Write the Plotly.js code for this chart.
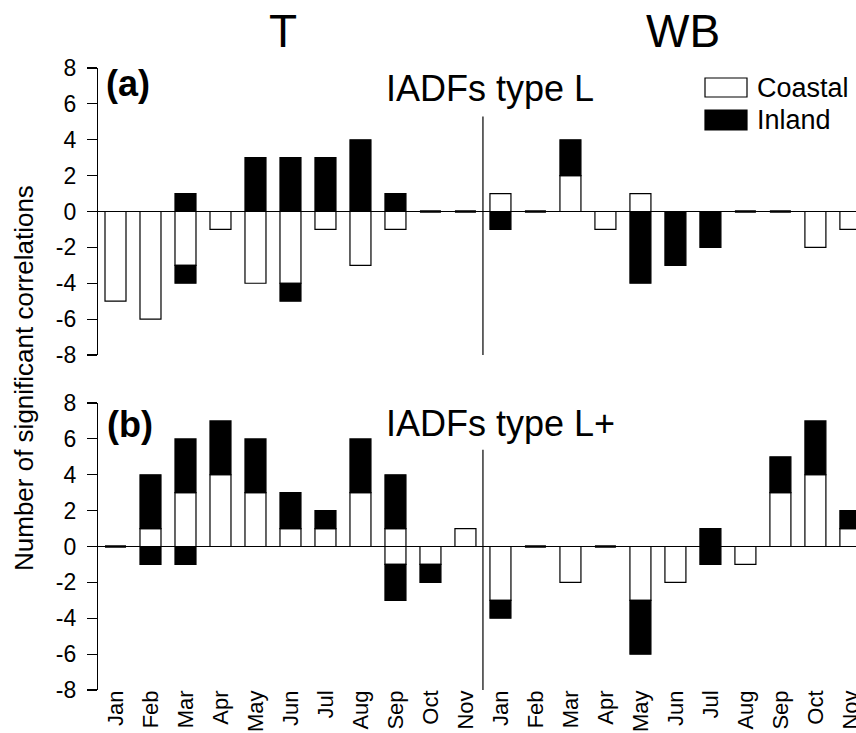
<!DOCTYPE html>
<html>
<head>
<meta charset="utf-8">
<script src="https://cdn.plot.ly/plotly-3.0.1.min.js"></script>
<style>html,body{margin:0;padding:0;background:#fff;}#chart{width:856px;height:733px;}</style>
</head>
<body>
<div id="chart"></div>
<script>
// ---- Data ----
var months = ['Jan','Feb','Mar','Apr','May','Jun','Jul','Aug','Sep','Oct','Nov'];
var xLabels = months.concat(months);           // T months, then WB months
var yTickVals = [-8,-6,-4,-2,0,2,4,6,8];
var yTickText = ['-8','-6','-4','-2','0','2','4','6','8'];

// Panel (a): IADFs type L   (T Jan..Nov, then WB Jan..Nov)
var aCoastalPos = [0,0,0,0,0,0,0,0,0,0,0,   1,0,2,0,1,0,0,0,0,0,0];
var aInlandPos  = [0,0,1,0,3,3,3,4,1,0,0,   0,0,2,0,0,0,0,0,0,0,0];
var aCoastalNeg = [-5,-6,-3,-1,-4,-4,-1,-3,-1,0,0,   0,0,0,-1,0,0,0,0,0,-2,-1];
var aInlandNeg  = [0,0,-1,0,0,-1,0,0,0,0,0,   -1,0,0,0,-4,-3,-2,0,0,0,0];

// Panel (b): IADFs type L+
var bCoastalPos = [0,1,3,4,3,1,1,3,1,0,1,   0,0,0,0,0,0,0,0,3,4,1];
var bInlandPos  = [0,3,3,3,3,2,1,3,3,0,0,   0,0,0,0,0,0,1,0,2,3,1];
var bCoastalNeg = [0,0,0,0,0,0,0,0,-1,-1,0,   -3,0,-2,0,-3,-2,0,-1,0,0,0];
var bInlandNeg  = [0,-1,-1,0,0,0,0,0,-2,-1,0,   -1,0,0,0,-3,0,-1,0,0,0,0];

// ---- Build traces ----
var xIdx = xLabels.map(function(_, i){ return i; });
function isEmpty(all, i){ return all.every(function(o){ return o[i] === 0; }); }
function clean(arr, keepEmpty, all){
  return arr.map(function(v, i){
    if (v !== 0) return v;
    if (keepEmpty && isEmpty(all, i)) return 0;   // empty category: flat bar at zero
    return null;
  });
}
var LINE = {color:'#000', width:1.2};
function panelTraces(cp, ip, cn, inn, xa, ya){
  var all = [cp, ip, cn, inn];
  var lw = xIdx.map(function(i){ return isEmpty(all, i) ? 2.6 : 1.2; });
  return [
    {type:'bar', name:'Coastal', x:xIdx, y:clean(cp, true, all), xaxis:xa, yaxis:ya,
     marker:{color:'#fff', line:{color:'#000', width:lw}}, showlegend:false, hoverinfo:'y+name'},
    {type:'bar', name:'Coastal', x:xIdx, y:clean(cn, false, all), xaxis:xa, yaxis:ya,
     marker:{color:'#fff', line:LINE}, showlegend:false, hoverinfo:'y+name'},
    {type:'bar', name:'Inland', x:xIdx, y:clean(ip, false, all), xaxis:xa, yaxis:ya,
     marker:{color:'#000', line:LINE}, showlegend:false, hoverinfo:'y+name'},
    {type:'bar', name:'Inland', x:xIdx, y:clean(inn, false, all), xaxis:xa, yaxis:ya,
     marker:{color:'#000', line:LINE}, showlegend:false, hoverinfo:'y+name'}
  ];
}
var data = panelTraces(aCoastalPos, aInlandPos, aCoastalNeg, aInlandNeg, 'x', 'y')
  .concat(panelTraces(bCoastalPos, bInlandPos, bCoastalNeg, bInlandNeg, 'x2', 'y2'));

// ---- Layout helpers (pixel -> paper) ----
var W = 856, H = 733, ML = 98, MR = 0, MT = 68, MB = 43;
var PW = W - ML - MR, PH = H - MT - MB;
function px(x){ return (x - ML) / PW; }
function py(y){ return (H - MB - y) / PH; }

var FONT = 'Liberation Sans, Arial, Helvetica, sans-serif';
var xRange = [-0.5, 21.16];
var yAxisBase = {
  range:[-8,8], tickvals:yTickVals, ticktext:yTickText,
  showline:true, linecolor:'#000', linewidth:1.2,
  ticks:'outside', ticklen:10, tickwidth:1.2, tickcolor:'#000',
  ticklabelstandoff:6,
  showgrid:false, zeroline:true, zerolinecolor:'#000', zerolinewidth:1.2,
  tickfont:{family:FONT, size:23, color:'#000'}, fixedrange:true
};
var yA = Object.assign({}, yAxisBase, {domain:[py(355), 1], anchor:'x'});
var yB = Object.assign({}, yAxisBase, {domain:[0, py(403)], anchor:'x2'});

var layout = {
  width:W, height:H,
  margin:{l:ML, r:MR, t:MT, b:MB, pad:0},
  paper_bgcolor:'#fff', plot_bgcolor:'#fff',
  barmode:'relative', bargap:0.4,
  showlegend:false,
  font:{family:FONT, color:'#000'},
  xaxis:{domain:[0,1], anchor:'y', range:xRange, showticklabels:false, ticks:'',
         showline:false, showgrid:false, zeroline:false, fixedrange:true},
  yaxis:yA,
  xaxis2:{domain:[0,1], anchor:'y2', range:xRange, tickvals:xIdx, ticktext:xLabels,
          tickangle:-90, ticks:'', ticklen:0, ticklabelstandoff:-5, ticklabeloverflow:'allow',
          showline:false, showgrid:false, zeroline:false,
          automargin:false, tickfont:{family:FONT, size:22, color:'#000'}, fixedrange:true},
  yaxis2:yB,
  shapes:[
    {type:'line', xref:'x', yref:'y', x0:10.5, x1:10.5, y0:-8, y1:5.3, line:{color:'#000', width:1.2}},
    {type:'line', xref:'x2', yref:'y2', x0:10.5, x1:10.5, y0:-8, y1:5.4, line:{color:'#000', width:1.2}},
    // legend swatches
    {type:'rect', xref:'paper', yref:'paper', x0:px(705), x1:px(747), y0:py(97), y1:py(78),
     fillcolor:'#fff', line:{color:'#000', width:1.2}},
    {type:'rect', xref:'paper', yref:'paper', x0:px(705), x1:px(747), y0:py(130), y1:py(110),
     fillcolor:'#000', line:{color:'#000', width:1.2}}
  ],
  annotations:[
    {text:'T', xref:'paper', yref:'paper', x:px(282.5), y:py(31), xanchor:'center', yanchor:'middle',
     showarrow:false, font:{family:FONT, size:46, color:'#000'}},
    {text:'WB', xref:'paper', yref:'paper', x:px(683), y:py(31), xanchor:'center', yanchor:'middle',
     showarrow:false, font:{family:FONT, size:46, color:'#000'}},
    {text:'IADFs type L', xref:'paper', yref:'paper', x:px(490), y:py(88), xanchor:'center', yanchor:'middle',
     showarrow:false, font:{family:FONT, size:36, color:'#000'}},
    {text:'IADFs type L+', xref:'paper', yref:'paper', x:px(500), y:py(423), xanchor:'center', yanchor:'middle',
     showarrow:false, font:{family:FONT, size:36, color:'#000'}},
    {text:'<b>(a)</b>', xref:'paper', yref:'paper', x:px(104), y:py(84), xanchor:'left', yanchor:'middle',
     showarrow:false, font:{family:FONT, size:36, color:'#000'}},
    {text:'<b>(b)</b>', xref:'paper', yref:'paper', x:px(105), y:py(424), xanchor:'left', yanchor:'middle',
     showarrow:false, font:{family:FONT, size:36, color:'#000'}},
    {text:'Coastal', xref:'paper', yref:'paper', x:px(755), y:py(88), xanchor:'left', yanchor:'middle',
     showarrow:false, font:{family:FONT, size:27, color:'#000'}},
    {text:'Inland', xref:'paper', yref:'paper', x:px(755), y:py(120), xanchor:'left', yanchor:'middle',
     showarrow:false, font:{family:FONT, size:27, color:'#000'}},
    {text:'Number of significant correlations', xref:'paper', yref:'paper', x:px(24), y:py(378),
     xanchor:'center', yanchor:'middle', textangle:-90,
     showarrow:false, font:{family:FONT, size:26, color:'#000'}}
  ]
};

Plotly.newPlot('chart', data, layout, {displayModeBar:false, staticPlot:true});
</script>
</body>
</html>
